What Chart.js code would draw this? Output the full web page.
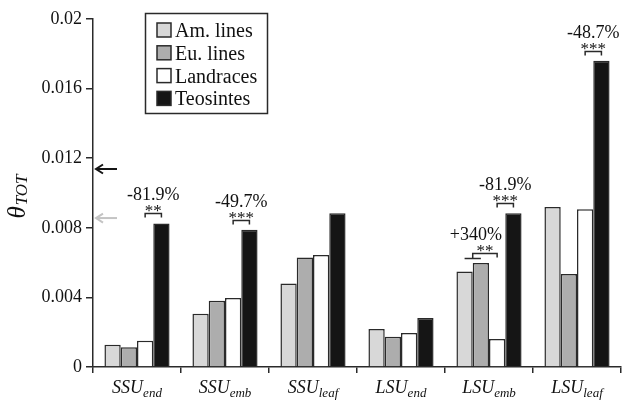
<!DOCTYPE html>
<html>
<head>
<meta charset="utf-8">
<script src="https://cdn.jsdelivr.net/npm/chart.js@4/dist/chart.umd.min.js"></script>
<style>
  html, body { margin: 0; padding: 0; background: #fff; }
  #wrap { width: 625px; height: 402px; position: relative; }
</style>
</head>
<body>
<div id="wrap"><canvas id="c" width="625" height="402"></canvas></div>
<script>
// ---- data ----
const catMain = ['SSU', 'SSU', 'SSU', 'LSU', 'LSU', 'LSU'];
const catSub = ['end', 'emb', 'leaf', 'end', 'emb', 'leaf'];
const seriesNames = ['Am. lines', 'Eu. lines', 'Landraces', 'Teosintes'];
const amLines   = [0.00128, 0.00306, 0.00480, 0.00218, 0.00549, 0.00920];
const euLines   = [0.00113, 0.00381, 0.00630, 0.00174, 0.00598, 0.00534];
const landraces = [0.00151, 0.00397, 0.00644, 0.00195, 0.00161, 0.00906];
const teosintes = [0.00825, 0.00789, 0.00883, 0.00282, 0.00883, 0.01760];
const yTickLabels = ['0', '0.004', '0.008', '0.012', '0.016', '0.02'];
const yTitle = ['\u03B8', 'TOT'];
// reference arrows on the y axis (value)
const arrowValues = [0.01138, 0.00856];
// significance annotations: category, compared series, stars, label
const annCats   = [0, 1, 4, 4, 5];
const annFrom   = [[2], [2], [2], [0, 1], [2]];
const annTo     = [3, 3, 3, 2, 3];
const annStars  = ['**', '***', '***', '**', '***'];
const annLabels = ['-81.9%', '-49.7%', '-81.9%', '+340%', '-48.7%'];

// ---- styles ----
const fills = ['#d8d8d8', '#adadad', '#ffffff', '#151515'];
const arrowColors = ['#151515', '#c4c4c4'];
const annLabelDx = [0, 0, 0, -9, 0];
const SERIF = '"Liberation Serif", "Times New Roman", serif';
const INK = '#2a2a2a';

const seriesData = [amLines, euLines, landraces, teosintes];

const overlay = {
  id: 'overlay',
  afterDraw(chart) {
    const ctx = chart.ctx;
    const x = chart.scales.x, y = chart.scales.y;
    ctx.save();

    // x category labels with subscripts
    ctx.fillStyle = '#111';
    ctx.textBaseline = 'alphabetic';
    for (let i = 0; i < catMain.length; i++) {
      const cx = x.getPixelForValue(i);
      ctx.font = 'italic 18px ' + SERIF;
      const w1 = ctx.measureText(catMain[i]).width;
      ctx.font = 'italic 13px ' + SERIF;
      const w2 = ctx.measureText(catSub[i]).width;
      const start = cx - (w1 + w2) / 2;
      ctx.font = 'italic 18px ' + SERIF;
      ctx.textAlign = 'left';
      ctx.fillText(catMain[i], start, 393);
      ctx.font = 'italic 13px ' + SERIF;
      ctx.fillText(catSub[i], start + w1, 397);
    }

    // y axis title (rotated)
    ctx.save();
    ctx.font = 'italic 25px ' + SERIF;
    const tw1 = ctx.measureText(yTitle[0]).width;
    ctx.font = 'italic 17px ' + SERIF;
    const tw2 = ctx.measureText(yTitle[1]).width;
    ctx.translate(25, 197);
    ctx.rotate(-Math.PI / 2);
    ctx.textAlign = 'left';
    ctx.font = 'italic 25px ' + SERIF;
    ctx.fillText(yTitle[0], -(tw1 + tw2) / 2, 0);
    ctx.font = 'italic 17px ' + SERIF;
    ctx.fillText(yTitle[1], -(tw1 + tw2) / 2 + tw1 + 1, 2);
    ctx.restore();

    // arrows at y axis
    const ax = chart.chartArea.left;
    arrowValues.forEach((v, i) => {
      const py = y.getPixelForValue(v);
      ctx.strokeStyle = arrowColors[i];
      ctx.lineWidth = 2;
      ctx.beginPath();
      ctx.moveTo(ax + 24, py);
      ctx.lineTo(ax + 3, py);
      ctx.stroke();
      ctx.beginPath();
      ctx.moveTo(ax + 10, py - 4.5);
      ctx.lineTo(ax + 3, py);
      ctx.lineTo(ax + 10, py + 4.5);
      ctx.stroke();
    });

    // significance brackets
    ctx.strokeStyle = INK;
    ctx.fillStyle = '#111';
    ctx.lineWidth = 1.5;
    annCats.forEach((c, k) => {
      const involved = annFrom[k].concat([annTo[k]]);
      const els = involved.map(s => chart.getDatasetMeta(s).data[c]);
      const topMin = Math.min(...els.map(e => e.y));
      const by = Math.round(topMin - 10) + 0.5;
      const toEl = chart.getDatasetMeta(annTo[k]).data[c];
      let x1;
      if (annFrom[k].length > 1) {
        const fe = annFrom[k].map(s => chart.getDatasetMeta(s).data[c]);
        const lx1 = fe[0].x, lx2 = fe[fe.length - 1].x;
        const ly = by + 5;
        x1 = (lx1 + lx2) / 2;
        ctx.beginPath();
        ctx.moveTo(lx1, ly); ctx.lineTo(lx2, ly);
        ctx.stroke();
        ctx.beginPath();
        ctx.moveTo(x1, ly); ctx.lineTo(x1, by);
        ctx.lineTo(toEl.x, by); ctx.lineTo(toEl.x, by + 4);
        ctx.stroke();
      } else {
        x1 = chart.getDatasetMeta(annFrom[k][0]).data[c].x;
        ctx.beginPath();
        ctx.moveTo(x1, by + 4); ctx.lineTo(x1, by);
        ctx.lineTo(toEl.x, by); ctx.lineTo(toEl.x, by + 4);
        ctx.stroke();
      }
      const mid = (x1 + toEl.x) / 2;
      ctx.textAlign = 'center';
      ctx.textBaseline = 'alphabetic';
      ctx.font = '17px ' + SERIF;
      ctx.fillText(annStars[k], mid, by + 2);
      ctx.font = '18px ' + SERIF;
      ctx.fillText(annLabels[k], mid + annLabelDx[k], by - 14);
    });

    // legend box
    const lx = 145, ly = 13, lw = 122, lh = 100;
    ctx.fillStyle = '#fff';
    ctx.fillRect(lx, ly, lw, lh);
    ctx.strokeStyle = INK;
    ctx.lineWidth = 1.5;
    ctx.strokeRect(lx + 0.5, ly + 0.5, lw, lh);
    chart.data.datasets.forEach((ds, i) => {
      const cy = 30 + i * 22.8;
      ctx.fillStyle = ds.backgroundColor;
      ctx.fillRect(157, cy - 7, 14, 14);
      ctx.strokeStyle = INK;
      ctx.lineWidth = 1.5;
      ctx.strokeRect(157, cy - 7, 14, 14);
      ctx.fillStyle = '#111';
      ctx.font = '20px ' + SERIF;
      ctx.textAlign = 'left';
      ctx.textBaseline = 'alphabetic';
      ctx.fillText(ds.label, 175, cy + 7);
    });

    ctx.restore();
  }
};

new Chart(document.getElementById('c'), {
  type: 'bar',
  data: {
    labels: catMain.map((m, i) => m + catSub[i]),
    datasets: seriesNames.map((n, i) => ({
      label: n,
      data: seriesData[i],
      backgroundColor: fills[i],
      borderColor: INK,
      borderWidth: 1.5,
      categoryPercentage: 0.74,
      barPercentage: 1.0
    }))
  },
  options: {
    responsive: false,
    animation: false,
    devicePixelRatio: 1,
    layout: { padding: { top: 19, right: 4, left: 0, bottom: 0 } },
    plugins: { legend: { display: false }, tooltip: { enabled: false } },
    scales: {
      x: {
        offset: true,
        afterFit(s) { s.height = 35; },
        ticks: { display: false },
        grid: { offset: true, drawOnChartArea: false, drawTicks: true, tickLength: 6, color: INK, lineWidth: 1.5 },
        border: { display: true, color: INK, width: 1.5 }
      },
      y: {
        min: 0, max: 0.02,
        afterFit(s) { s.width = 93; },
        ticks: {
          stepSize: 0.004,
          padding: 4,
          color: '#111',
          font: { family: SERIF, size: 18 },
          callback: (v, idx) => yTickLabels[idx]
        },
        grid: { drawOnChartArea: false, drawTicks: true, tickLength: 7, color: INK, lineWidth: 1.5 },
        border: { display: true, color: INK, width: 1.5 }
      }
    }
  },
  plugins: [overlay]
});
</script>
</body>
</html>
